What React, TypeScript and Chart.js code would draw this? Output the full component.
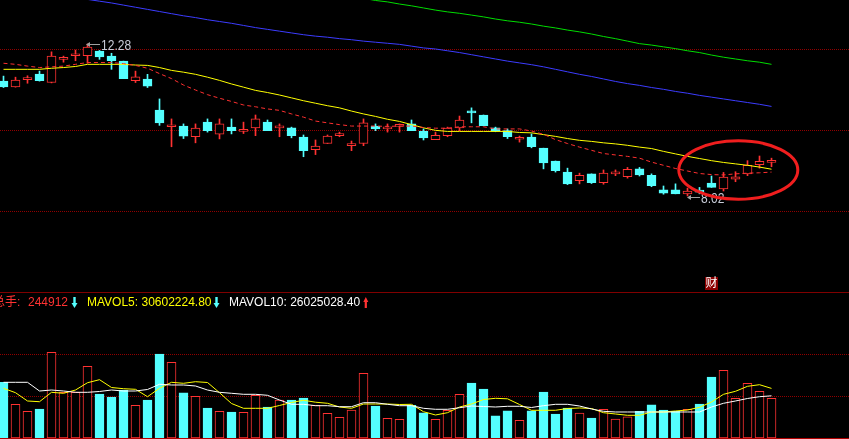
import React, { useEffect, useRef } from "react";
import { Chart, registerables } from "chart.js";

Chart.register(...registerables);

// ---- data (one entry per trading day) ----
const opens = [11.24, 11.08, 11.28, 11.44, 11.20, 11.85, 11.95, 11.95, 12.08, 11.94, 11.80, 11.25, 11.30, 10.43, 9.96, 9.98, 9.68, 10.09, 9.75, 9.95, 9.83, 9.93, 10.09, 9.93, 9.93, 9.67, 9.32, 9.49, 9.71, 9.43, 9.49, 9.98, 9.90, 9.97, 10.04, 9.84, 9.60, 9.71, 9.93, 10.40, 10.29, 9.93, 9.85, 9.61, 9.67, 9.36, 9.00, 8.69, 8.45, 8.64, 8.39, 8.64, 8.56, 8.78, 8.60, 8.19, 8.19, 8.08, 8.17, 8.38, 8.22, 8.49, 8.64, 8.90, 8.96];
const highs = [11.38, 11.35, 11.39, 11.52, 12.06, 11.94, 12.11, 12.28, 12.10, 12.02, 11.80, 11.52, 11.43, 10.74, 10.18, 10.04, 10.04, 10.18, 10.18, 10.18, 10.09, 10.29, 10.15, 10.04, 9.95, 9.73, 9.59, 9.73, 9.81, 9.56, 10.18, 10.04, 10.04, 10.04, 10.15, 9.90, 9.81, 9.95, 10.26, 10.49, 10.29, 9.95, 9.90, 9.70, 9.76, 9.36, 9.00, 8.80, 8.66, 8.64, 8.75, 8.75, 8.82, 8.82, 8.64, 8.30, 8.36, 8.24, 8.26, 8.58, 8.68, 8.70, 9.01, 9.14, 9.08];
const lows = [11.06, 11.07, 11.18, 11.24, 11.19, 11.77, 11.81, 11.74, 11.85, 11.57, 11.31, 11.20, 11.06, 10.00, 9.40, 9.63, 9.51, 9.81, 9.62, 9.76, 9.77, 9.71, 9.85, 9.68, 9.65, 9.12, 9.18, 9.49, 9.68, 9.29, 9.43, 9.85, 9.81, 9.81, 9.85, 9.59, 9.60, 9.68, 9.85, 10.07, 9.99, 9.82, 9.63, 9.53, 9.37, 8.78, 8.69, 8.34, 8.36, 8.37, 8.35, 8.59, 8.52, 8.58, 8.28, 8.07, 8.08, 8.02, 8.08, 8.26, 8.16, 8.42, 8.59, 8.80, 8.84];
const closes = [11.08, 11.27, 11.29, 11.25, 11.94, 11.86, 11.96, 12.19, 11.92, 11.81, 11.31, 11.36, 11.10, 10.07, 9.97, 9.70, 9.92, 9.85, 10.04, 9.85, 9.84, 10.18, 9.85, 9.98, 9.71, 9.29, 9.42, 9.70, 9.77, 9.48, 10.07, 9.90, 9.91, 9.98, 9.85, 9.65, 9.72, 9.92, 10.15, 10.35, 9.99, 9.84, 9.68, 9.62, 9.40, 8.95, 8.73, 8.36, 8.60, 8.39, 8.66, 8.69, 8.77, 8.61, 8.31, 8.10, 8.08, 8.16, 8.13, 8.26, 8.55, 8.56, 8.88, 8.99, 8.97];

// price moving-average lines
const maYellow = [11.57, 11.57, 11.57, 11.57, 11.60, 11.62, 11.65, 11.71, 11.71, 11.71, 11.71, 11.69, 11.68, 11.62, 11.54, 11.49, 11.43, 11.35, 11.26, 11.16, 11.07, 10.98, 10.92, 10.85, 10.77, 10.69, 10.62, 10.55, 10.49, 10.40, 10.32, 10.25, 10.17, 10.11, 10.02, 9.93, 9.86, 9.83, 9.83, 9.83, 9.83, 9.83, 9.83, 9.80, 9.79, 9.74, 9.69, 9.63, 9.58, 9.55, 9.51, 9.48, 9.44, 9.39, 9.35, 9.27, 9.20, 9.13, 9.07, 9.01, 8.96, 8.92, 8.88, 8.83, 8.77];
const maRedDash = [11.74, 11.71, 11.66, 11.62, 11.64, 11.66, 11.71, 11.76, 11.76, 11.76, 11.73, 11.68, 11.60, 11.45, 11.31, 11.13, 10.99, 10.86, 10.76, 10.67, 10.57, 10.52, 10.46, 10.42, 10.32, 10.23, 10.12, 10.07, 10.02, 9.98, 9.98, 9.98, 9.97, 9.98, 9.98, 9.94, 9.92, 9.92, 9.96, 9.96, 9.96, 9.90, 9.90, 9.90, 9.84, 9.75, 9.60, 9.49, 9.39, 9.30, 9.21, 9.17, 9.13, 9.08, 8.97, 8.88, 8.79, 8.72, 8.65, 8.62, 8.61, 8.64, 8.66, 8.67, 8.69];
const maBlue = [null, null, null, null, null, null, null, 13.53, 13.48, 13.43, 13.37, 13.31, 13.25, 13.19, 13.13, 13.07, 13.02, 12.96, 12.91, 12.86, 12.80, 12.74, 12.69, 12.64, 12.59, 12.54, 12.50, 12.47, 12.43, 12.40, 12.36, 12.33, 12.30, 12.27, 12.22, 12.17, 12.14, 12.09, 12.04, 11.98, 11.92, 11.86, 11.80, 11.75, 11.70, 11.64, 11.57, 11.50, 11.43, 11.37, 11.30, 11.23, 11.17, 11.12, 11.06, 11.01, 10.95, 10.90, 10.84, 10.79, 10.74, 10.69, 10.64, 10.59, 10.53];
const maGreen = [null, null, null, null, null, null, null, null, null, null, null, null, null, null, null, null, null, null, null, null, null, null, null, null, null, null, null, null, null, null, 13.56, 13.50, 13.46, 13.40, 13.35, 13.29, 13.23, 13.18, 13.14, 13.09, 13.04, 12.98, 12.93, 12.89, 12.84, 12.78, 12.73, 12.67, 12.62, 12.56, 12.49, 12.43, 12.36, 12.29, 12.25, 12.20, 12.15, 12.09, 12.04, 11.97, 11.91, 11.86, 11.81, 11.77, 11.71];

// volume (lots) and its moving averages
const volumes = [343600, 208000, 165000, 179000, 529000, 282000, 282000, 442000, 271000, 253000, 296000, 202000, 234000, 518000, 467000, 278000, 257000, 185000, 165000, 160000, 158000, 263000, 191000, 234000, 234000, 247000, 202000, 152000, 128000, 173000, 399000, 197000, 121000, 115000, 202000, 156000, 115000, 171000, 270000, 339000, 302000, 136000, 167000, 109000, 167000, 284000, 148000, 185000, 154000, 123000, 177000, 117000, 130000, 165000, 204000, 173000, 165000, 177000, 210000, 376000, 418000, 245000, 337000, 288000, 244912];
const mavol5 = [306600, 279500, 228300, 223900, 281900, 275800, 296100, 341100, 359700, 311500, 304100, 300400, 254800, 306600, 343600, 337400, 347300, 342400, 279500, 212800, 183200, 183200, 183200, 200500, 219000, 232600, 220900, 214100, 191200, 183200, 209700, 209700, 209700, 206700, 207900, 162200, 141900, 156100, 191200, 209700, 237500, 244900, 241800, 206700, 170900, 170900, 170900, 182000, 185100, 182000, 156100, 148100, 140000, 140000, 160400, 160400, 166600, 172700, 189400, 222100, 269600, 288100, 318900, 328800, 306022];
const mavol10 = [343600, 343600, 343600, 289900, 296100, 289900, 281900, 281900, 286900, 296100, 289900, 289900, 299200, 331300, 327000, 327000, 320800, 296100, 281900, 275800, 269600, 269600, 263400, 234400, 207900, 207900, 199300, 199300, 193100, 193100, 217800, 217800, 207900, 199300, 199300, 183200, 177100, 177100, 186900, 197400, 194300, 191200, 195600, 195600, 188200, 199300, 207900, 207900, 197400, 178900, 164700, 160400, 160400, 160400, 160400, 160400, 160400, 160400, 160400, 191200, 214100, 228300, 243700, 254800, 260250];

// horizontal reference lines
const priceGridLevels = [12.126, 9.856, 7.585];
const volGridLevels = [257250, 516350];
const PRICE_MIN = 5.357;
const PRICE_MAX = 13.513;
const VOL_MAX = 894500;

// header texts
const volTotalLabel = "总手:";
const volTotalValue = "244912";
const mavol5Label = "MAVOL5: 30602224.80";
const mavol10Label = "MAVOL10: 26025028.40";
const highLabel = "12.28";
const lowLabel = "8.02";

// ---- styles ----
const RED = "#ff3232";
const CYAN = "#54ffff";
const GRID = "#900000";
const X_MIN = -3.5 / 12;
const X_MAX = X_MIN + 849 / 12;
const FONT = '"Liberation Sans", Arial, "Noto Sans CJK SC", sans-serif';

const idx = opens.map((_, i) => i);
const isUp = idx.map((i) => closes[i] >= opens[i]);
const pts = (arr: (number | null)[]) => arr.map((v, i) => ({ x: i, y: v }));

function xAxis(): any {
  return { type: "linear", min: X_MIN, max: X_MAX, offset: false, display: false, grid: { display: false } };
}
function yAxis(min: number, max: number, levels: number[]): any {
  return {
    type: "linear",
    min,
    max,
    beginAtZero: false,
    display: true,
    ticks: { display: false },
    grid: { color: GRID, lineWidth: 1, drawTicks: false },
    border: { display: false, dash: [1, 1] },
    afterBuildTicks: (axis: any) => {
      axis.ticks = levels.map((v) => ({ value: v }));
    },
  };
}
function lineDs(data: (number | null)[], color: string, dash: number[] = []): any {
  return {
    type: "line",
    data: pts(data),
    borderColor: color,
    borderWidth: 1,
    borderDash: dash,
    pointRadius: 0,
    tension: 0,
    fill: false,
    order: 0,
  };
}

function DownArrow({ x, color }: { x: number; color: string }) {
  return (
    <g fill={color}>
      <rect x={x + 1.8} y={297} width={2.4} height={6} />
      <polygon points={`${x},${303} ${x + 6},${303} ${x + 3},${308}`} />
    </g>
  );
}
function UpArrow({ x, color }: { x: number; color: string }) {
  return (
    <g fill={color}>
      <polygon points={`${x},${302} ${x + 5},${302} ${x + 2.5},${297}`} />
      <rect x={x + 1.4} y={302} width={2.2} height={6} />
    </g>
  );
}

export default function App() {
  const priceRef = useRef<HTMLCanvasElement>(null);
  const volRef = useRef<HTMLCanvasElement>(null);

  useEffect(() => {
    document.body.style.margin = "0";
    document.body.style.background = "#000";
    const common: any = {
      responsive: false,
      maintainAspectRatio: false,
      animation: false,
      events: [],
      plugins: { legend: { display: false }, tooltip: { enabled: false } },
    };
    const pc = new Chart(priceRef.current!, {
      type: "bar",
      data: {
        datasets: [
          {
            type: "bar",
            data: idx.map((i) => ({ x: i, y: [lows[i], highs[i]] })),
            backgroundColor: isUp.map((u) => (u ? RED : CYAN)),
            borderWidth: 0,
            barThickness: 1,
            grouped: false,
            order: 3,
          } as any,
          {
            type: "bar",
            data: idx.map((i) => ({ x: i, y: [opens[i], closes[i]] })),
            backgroundColor: isUp.map((u) => (u ? "#000000" : CYAN)),
            borderColor: isUp.map((u) => (u ? RED : CYAN)),
            borderWidth: 1,
            borderSkipped: false,
            barThickness: 9,
            minBarLength: 2,
            grouped: false,
            order: 2,
          } as any,
          lineDs(maGreen, "#00dd00"),
          lineDs(maBlue, "#3c3cff"),
          lineDs(maRedDash, "#ff3030", [4, 3]),
          lineDs(maYellow, "#ffff00"),
        ],
      },
      options: {
        ...common,
        layout: { padding: 0 },
        scales: { x: xAxis(), y: yAxis(PRICE_MIN, PRICE_MAX, priceGridLevels) },
      },
    });
    const vc = new Chart(volRef.current!, {
      type: "bar",
      data: {
        datasets: [
          {
            type: "bar",
            data: idx.map((i) => ({ x: i, y: volumes[i] })),
            backgroundColor: isUp.map((u) => (u ? "#000000" : CYAN)),
            borderColor: isUp.map((u) => (u ? RED : CYAN)),
            borderWidth: 1,
            borderSkipped: false,
            barThickness: 9,
            grouped: false,
            order: 2,
          } as any,
          lineDs(mavol10, "#ffffff"),
          lineDs(mavol5, "#ffff00"),
        ],
      },
      options: {
        ...common,
        layout: { padding: { left: 0, right: 0, top: 0, bottom: 1 } },
        scales: { x: xAxis(), y: yAxis(0, VOL_MAX, volGridLevels) },
      },
    });
    return () => {
      pc.destroy();
      vc.destroy();
    };
  }, []);

  const hdr: React.CSSProperties = {
    position: "absolute",
    top: 296,
    fontSize: 12,
    lineHeight: "12px",
    whiteSpace: "nowrap",
  };
  const priceLbl: React.CSSProperties = {
    position: "absolute",
    fontSize: 14,
    lineHeight: "14px",
    color: "#c8ccd8",
    transform: "scaleX(0.86)",
    transformOrigin: "left top",
    whiteSpace: "nowrap",
  };

  return (
    <div
      style={{
        position: "fixed",
        left: 0,
        top: 0,
        width: 849,
        height: 439,
        background: "#000",
        overflow: "hidden",
        fontFamily: FONT,
      }}
    >
      <canvas ref={priceRef} width={849} height={291} style={{ position: "absolute", left: 0, top: 0, width: 849, height: 291 }} />
      <div style={{ position: "absolute", left: 0, top: 292, width: 849, height: 1, background: "#800000" }} />
      <canvas ref={volRef} width={849} height={146} style={{ position: "absolute", left: 0, top: 293, width: 849, height: 146 }} />
      <div style={{ position: "absolute", left: 0, top: 438, width: 849, height: 1, background: "#b00000" }} />

      <span style={{ ...hdr, left: -7, color: RED }}>{volTotalLabel}</span>
      <span style={{ ...hdr, left: 28, color: RED }}>{volTotalValue}</span>
      <span style={{ ...hdr, left: 87, color: "#ffff00" }}>{mavol5Label}</span>
      <span style={{ ...hdr, left: 229, color: "#ffffff" }}>{mavol10Label}</span>

      <div style={{ ...priceLbl, left: 101, top: 37.5 }}>{highLabel}</div>
      <div style={{ ...priceLbl, left: 701, top: 190.5 }}>{lowLabel}</div>
      <div
        style={{
          position: "absolute",
          left: 705,
          top: 277,
          width: 13,
          height: 13,
          background: "#8b0000",
          color: "#ffffff",
          fontSize: 12,
          lineHeight: "13px",
          textAlign: "center",
        }}
      >
        财
      </div>

      <svg width={849} height={439} style={{ position: "absolute", left: 0, top: 0, pointerEvents: "none" }}>
        <DownArrow x={71.5} color={CYAN} />
        <DownArrow x={213.5} color={CYAN} />
        <UpArrow x={363.3} color={RED} />
        <line x1={89} y1={44.5} x2={100} y2={44.5} stroke="#a0a0a0" strokeWidth={1} />
        <polygon points="86,44.5 90,42 90,47" fill="#a0a0a0" />
        <line x1={690} y1={197.5} x2={700} y2={197.5} stroke="#a0a0a0" strokeWidth={1} />
        <polygon points="687,197.5 691,195 691,200" fill="#a0a0a0" />
        <ellipse cx={738.3} cy={170} rx={59.5} ry={29.2} fill="none" stroke="#f01e1e" strokeWidth={3} />
      </svg>
    </div>
  );
}
